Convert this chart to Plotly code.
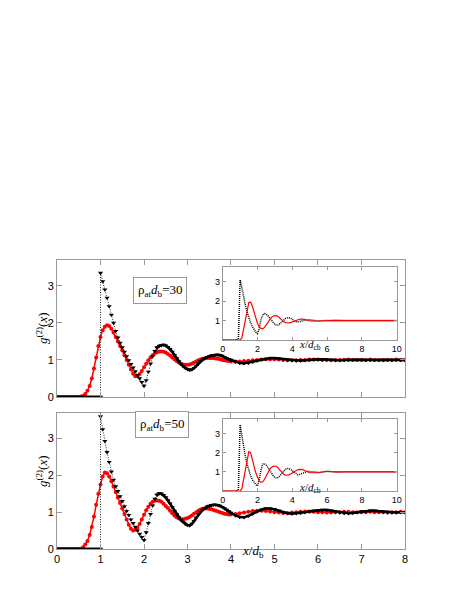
import plotly.graph_objects as go

# x grids: step 0.05 up to 4, then step 0.1 up to 8
x_main = [round(0.05 * i, 2) for i in range(81)] + [round(4.1 + 0.1 * i, 1) for i in range(40)]
x_ins = [round(0.1 * i, 1) for i in range(51)] + [5.5, 6.0, 6.5, 7.0, 7.5, 8.0, 8.5, 9.0, 9.5, 10.0]

# rho_at d_b = 30, main panel
red_30 = ([0.0] * 11
          + [0.01, 0.03, 0.08, 0.17, 0.3, 0.5, 0.77, 1.07, 1.38, 1.62]
          + [1.8, 1.9, 1.94, 1.92, 1.84, 1.74, 1.62, 1.5, 1.38, 1.26, 1.13, 1.0, 0.87, 0.74, 0.63, 0.56, 0.56, 0.62, 0.7, 0.8]
          + [0.9, 0.99, 1.07, 1.13, 1.18, 1.21, 1.23, 1.23, 1.22, 1.2, 1.16, 1.12, 1.07, 1.02, 0.97, 0.93, 0.9, 0.88, 0.87, 0.87]
          + [0.88, 0.9, 0.93, 0.96, 0.99, 1.01, 1.03, 1.04, 1.05, 1.05, 1.05, 1.05, 1.04, 1.03, 1.02, 1.0, 0.99, 0.98, 0.97, 0.96]
          + [0.96, 0.96, 0.97, 0.98, 0.99, 1.0, 1.01, 1.02, 1.02, 1.02, 1.01, 1.0, 0.99, 0.99, 0.99, 1.0, 1.0, 1.01, 1.01, 1.01,
             1.0, 1.0, 0.99, 1.0, 1.0, 1.0, 1.01, 1.0, 1.0, 1.0, 1.0, 1.01, 1.0, 1.0, 0.99, 1.0, 1.0, 1.01, 1.0, 1.0])
black_30 = ([3.35, 3.12, 2.9, 2.68, 2.45, 2.22, 2.0, 1.78, 1.6, 1.46, 1.34, 1.22, 1.1, 0.99, 0.89, 0.79, 0.69, 0.59, 0.5, 0.4, 0.3]
            + [0.45, 0.68, 0.9, 1.1, 1.24, 1.33, 1.38, 1.4, 1.41, 1.39, 1.35, 1.29, 1.22, 1.13, 1.04, 0.96, 0.89, 0.83, 0.78, 0.75]
            + [0.73, 0.74, 0.78, 0.84, 0.9, 0.96, 1.01, 1.05, 1.08, 1.1, 1.12, 1.13, 1.14, 1.14, 1.13, 1.11, 1.08, 1.05, 1.02, 1.0]
            + [0.95, 0.92, 0.91, 0.92, 0.95, 0.98, 1.01, 1.03, 1.05, 1.05, 1.04, 1.02, 1.0, 0.99, 0.98, 0.98, 0.99, 1.0, 1.01, 1.02,
               1.02, 1.01, 1.0, 0.99, 0.99, 1.0, 1.0, 1.01, 1.01, 1.01, 1.0, 1.0, 1.0, 1.0, 1.01, 1.01, 1.0, 1.0, 1.0, 1.0])

# rho_at d_b = 50, main panel
red_50 = ([0.0] * 11
          + [0.01, 0.05, 0.12, 0.22, 0.38, 0.6, 0.88, 1.2, 1.5, 1.75]
          + [1.97, 2.08, 2.06, 1.97, 1.84, 1.7, 1.55, 1.4, 1.25, 1.1, 0.95, 0.8, 0.66, 0.55, 0.5, 0.52, 0.58, 0.68, 0.8, 0.93]
          + [1.05, 1.15, 1.23, 1.28, 1.31, 1.32, 1.31, 1.28, 1.23, 1.17, 1.11, 1.04, 0.97, 0.91, 0.86, 0.83, 0.81, 0.81, 0.82, 0.84]
          + [0.87, 0.91, 0.96, 1.0, 1.04, 1.07, 1.09, 1.1, 1.1, 1.09, 1.08, 1.06, 1.04, 1.02, 1.0, 0.98, 0.96, 0.95, 0.94, 0.94]
          + [0.95, 0.97, 0.99, 1.01, 1.03, 1.04, 1.04, 1.03, 1.02, 1.0, 0.99, 0.98, 0.98, 0.99, 1.0, 1.01, 1.02, 1.02, 1.01, 1.0,
             1.0, 0.99, 0.99, 1.0, 1.0, 1.01, 1.01, 1.0, 1.0, 1.0, 1.0, 1.01, 1.0, 1.0, 1.0, 0.99, 1.0, 1.0, 1.01, 1.0])
black_50 = ([3.6, 3.25, 2.93, 2.63, 2.36, 2.1, 1.88, 1.7, 1.57, 1.43, 1.3, 1.16, 1.03, 0.92, 0.8, 0.7, 0.6, 0.5, 0.41, 0.32, 0.24]
            + [0.45, 0.7, 0.95, 1.18, 1.36, 1.47, 1.51, 1.5, 1.46, 1.4, 1.32, 1.23, 1.13, 1.03, 0.94, 0.86, 0.79, 0.73, 0.68, 0.65]
            + [0.64, 0.68, 0.76, 0.85, 0.93, 1.0, 1.06, 1.11, 1.15, 1.17, 1.19, 1.2, 1.2, 1.19, 1.17, 1.14, 1.1, 1.06, 1.02, 0.98]
            + [0.91, 0.87, 0.86, 0.9, 0.96, 1.02, 1.07, 1.1, 1.1, 1.08, 1.04, 1.0, 0.97, 0.96, 0.97, 0.98, 1.0, 1.02, 1.04, 1.05,
               1.06, 1.06, 1.04, 1.01, 0.99, 0.97, 0.97, 0.98, 1.0, 1.02, 1.03, 1.04, 1.04, 1.03, 1.01, 1.0, 0.99, 0.99, 1.0, 1.0])

# insets, x/d_cb
ins_black_30 = ([0.0] * 9 + [0.05, 3.1]
                + [2.7, 2.2, 1.8, 1.45, 1.15, 0.9, 0.7, 0.52, 0.4, 0.33]
                + [0.6, 1.05, 1.3, 1.36, 1.33, 1.25, 1.13, 1.0, 0.88, 0.8]
                + [0.76, 0.78, 0.85, 0.95, 1.04, 1.1, 1.14, 1.15, 1.12, 1.06]
                + [1.0, 0.95, 0.93, 0.94, 0.97, 1.0, 1.03, 1.05, 1.05, 1.04]
                + [0.98, 1.01, 1.01, 1.0, 1.0, 1.0, 1.0, 1.0, 1.0, 1.0])
ins_red_30 = ([0.0] * 11
              + [0.1, 0.55, 1.1, 1.6, 1.93, 1.95, 1.75, 1.45, 1.12, 0.85]
              + [0.68, 0.6, 0.58, 0.65, 0.78, 0.93, 1.07, 1.17, 1.24, 1.27]
              + [1.26, 1.2, 1.11, 1.02, 0.95, 0.9, 0.88, 0.88, 0.9, 0.94]
              + [0.98, 1.02, 1.05, 1.07, 1.08, 1.08, 1.06, 1.03, 1.0, 0.98]
              + [0.98, 1.01, 1.01, 1.0, 1.0, 1.0, 1.0, 1.0, 1.0, 1.0])
ins_black_50 = ([0.0] * 9 + [0.05, 3.45]
                + [2.9, 2.3, 1.8, 1.4, 1.07, 0.8, 0.6, 0.45, 0.33, 0.27]
                + [0.6, 1.1, 1.4, 1.42, 1.35, 1.22, 1.07, 0.93, 0.8, 0.71]
                + [0.67, 0.7, 0.8, 0.93, 1.05, 1.13, 1.18, 1.17, 1.12, 1.04]
                + [0.96, 0.9, 0.85, 0.85, 0.89, 0.95, 1.0, 1.04, 1.04, 1.02]
                + [0.97, 1.02, 0.99, 1.0, 1.0, 1.0, 1.0, 1.0, 1.0, 1.0])
ins_red_50 = ([0.0] * 11
              + [0.12, 0.6, 1.2, 1.75, 2.05, 2.0, 1.7, 1.3, 0.95, 0.7]
              + [0.52, 0.45, 0.48, 0.6, 0.78, 0.97, 1.13, 1.23, 1.29, 1.3]
              + [1.27, 1.18, 1.06, 0.95, 0.87, 0.83, 0.82, 0.84, 0.89, 0.95]
              + [1.02, 1.07, 1.11, 1.13, 1.13, 1.11, 1.07, 1.02, 0.98, 0.95]
              + [0.95, 1.03, 1.0, 1.0, 1.0, 1.0, 1.0, 1.0, 1.0, 1.0])

labels = ["30", "50"]

RED = "#ff0000"
GREY = "#999999"

fig = go.Figure()

# black series: zero up to contact, then the curve from x = 1
bx = x_main[:21] + x_main[20:]
split = 21 + 26  # up to x = 2.25 thin dotted, beyond that dense
for i, (red, black) in enumerate([(red_30, black_30), (red_50, black_50)]):
    xa = "x" if i == 0 else "x2"
    ya = "y" if i == 0 else "y2"
    by = [0.0] * 21 + black
    fig.add_trace(go.Scatter(x=x_main, y=red, mode="lines+markers", xaxis=xa, yaxis=ya,
                             line=dict(color=RED, width=1.5),
                             marker=dict(symbol="circle", size=4, color=RED)))
    fig.add_trace(go.Scatter(x=bx[:split + 1], y=by[:split + 1], mode="lines+markers", xaxis=xa, yaxis=ya,
                             line=dict(color="#222222", width=1, dash="1px,1.5px"),
                             marker=dict(symbol="triangle-down", size=4.5, color="black")))
    fig.add_trace(go.Scatter(x=bx[split:], y=by[split:], mode="lines+markers", xaxis=xa, yaxis=ya,
                             line=dict(color="black", width=2.5),
                             marker=dict(symbol="triangle-down", size=4.5, color="black")))

for i, (red, black) in enumerate([(ins_red_30, ins_black_30), (ins_red_50, ins_black_50)]):
    xa = "x3" if i == 0 else "x4"
    ya = "y3" if i == 0 else "y4"
    fig.add_trace(go.Scatter(x=x_ins, y=black, mode="lines", xaxis=xa, yaxis=ya,
                             line=dict(color="black", width=1.5, dash="1px,1px")))
    fig.add_trace(go.Scatter(x=x_ins, y=red, mode="lines", xaxis=xa, yaxis=ya,
                             line=dict(color=RED, width=1.2)))

ax = dict(showline=True, mirror="ticks", ticks="inside", linecolor=GREY, tickcolor=GREY,
          linewidth=1, showgrid=False, zeroline=False, automargin=False,
          tickfont=dict(family="Liberation Sans", size=11, color="black"))
ax_in = dict(ax, ticklen=3, tickfont=dict(family="Liberation Sans", size=9, color="black"))

# the page body adds an 8 px offset, so the figure is 8 px smaller and positions are shifted
main_x = [0.1077, 0.8725]
ins_x = [0.4719, 0.8543]

fig.update_layout(
    width=455, height=591,
    margin=dict(l=0, r=0, t=0, b=0, autoexpand=False),
    paper_bgcolor="white", plot_bgcolor="white",
    showlegend=False,
    xaxis=dict(ax, domain=main_x, anchor="y", range=[0, 8], tickvals=list(range(9)), showticklabels=False),
    yaxis=dict(ax, domain=[0.3418, 0.5736], anchor="x", range=[0, 3.7], tickvals=[0, 1, 2, 3]),
    xaxis2=dict(ax, domain=main_x, anchor="y2", range=[0, 8], tickvals=list(range(9))),
    yaxis2=dict(ax, domain=[0.0846, 0.3152], anchor="x2", range=[0, 3.7], tickvals=[0, 1, 2, 3]),
    xaxis3=dict(ax_in, domain=ins_x, anchor="y3", range=[0, 10], tickvals=[0, 2, 4, 6, 8, 10]),
    yaxis3=dict(ax_in, domain=[0.4382, 0.5613], anchor="x3", range=[0, 3.75], tickvals=[1, 2, 3]),
    xaxis4=dict(ax_in, domain=ins_x, anchor="y4", range=[0, 10], tickvals=[0, 2, 4, 6, 8, 10]),
    yaxis4=dict(ax_in, domain=[0.1827, 0.3046], anchor="x4", range=[0, 3.75], tickvals=[1, 2, 3]),
)

serif = dict(family="Liberation Serif", size=13, color="black")

# density boxes
for lab, xc, yc in [(labels[0], 0.3341, 0.5228), (labels[1], 0.3378, 0.2716)]:
    fig.add_annotation(text="ρ<sub>at</sub><i>d</i><sub>b</sub>=" + lab, xref="paper", yref="paper",
                       x=xc, y=yc, showarrow=False, font=serif, bordercolor=GREY, borderwidth=1,
                       borderpad=4, bgcolor="white")

# y titles
for yc in [0.4585, 0.1861]:
    fig.add_annotation(text="<i>g</i><sup>(2)</sup>(<i>x</i>)", xref="paper", yref="paper",
                       x=0.0527, y=yc, textangle=-90, showarrow=False, font=serif)

# x titles
fig.add_annotation(text="<i>x</i>/<i>d</i><sub>b</sub>", xref="paper", yref="paper",
                   x=0.5385, y=0.0626, showarrow=False, font=serif)
for yc in [0.4298, 0.1726]:
    fig.add_annotation(text="<i>x</i>/<i>d</i><sub>cb</sub>", xref="paper", yref="paper",
                       x=0.6637, y=yc, showarrow=False,
                       font=dict(family="Liberation Serif", size=11, color="black"))

fig.write_html("out.html")
